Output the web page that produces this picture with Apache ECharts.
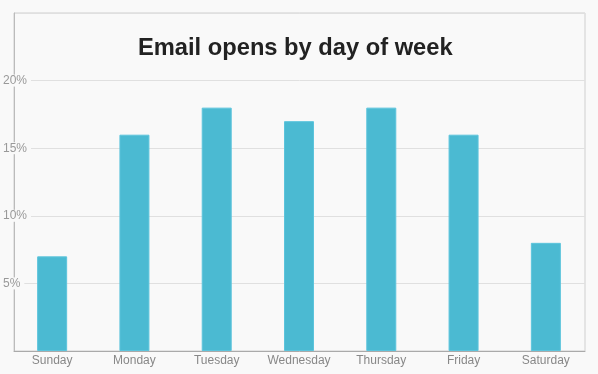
<!DOCTYPE html>
<html><head><meta charset="utf-8">
<script src="https://cdn.jsdelivr.net/npm/echarts@6/dist/echarts.min.js"></script>
<style>html,body{margin:0;padding:0;background:#f9f9f9}#c{width:598px;height:374px}</style>
</head><body><div id="c"></div>
<script>
var categories = ['Sunday','Monday','Tuesday','Wednesday','Thursday','Friday','Saturday'];
var opens = [7, 16, 18, 17, 18, 16, 8];
var yTicks = [5, 10, 15, 20];

var font = 'Liberation Sans, Arial, sans-serif';
var chart = echarts.init(document.getElementById('c'));
chart.setOption({
  backgroundColor: '#f9f9f9',
  animation: false,
  title: {
    text: 'Email opens by day of week',
    left: 133, top: 31,
    textStyle: {fontFamily: font, fontSize: 23.7, fontWeight: 'bold', color: '#222'}
  },
  grid: [
    {left: 14, right: 13, top: 13, bottom: 23, show: true, borderColor: '#cfcfcf', borderWidth: 1},
    {left: 11, right: 11, top: 13, bottom: 23}
  ],
  xAxis: [{
    gridIndex: 0, type: 'category', data: categories,
    axisLine: {lineStyle: {color: '#aaa'}},
    axisTick: {show: false},
    axisLabel: {show: false}
  }, {
    gridIndex: 1, type: 'category', data: categories,
    axisLine: {show: false},
    axisTick: {show: false},
    axisLabel: {color: '#888', fontSize: 12, fontFamily: font, margin: 4, interval: 0}
  }],
  yAxis: [{
    gridIndex: 0, type: 'value', min: 0, max: 25, interval: 5,
    axisLine: {show: true, lineStyle: {color: '#bbb'}},
    axisTick: {show: false},
    splitLine: {lineStyle: {color: '#e0e0e0'}},
    axisLabel: {
      color: '#999', fontSize: 12, fontFamily: font,
      align: 'left', margin: 11, backgroundColor: '#f9f9f9', padding: [0, 4, 0, 0],
      formatter: function (v) { return yTicks.indexOf(v) >= 0 ? v + '%' : ''; }
    }
  }, {
    gridIndex: 1, type: 'value', min: 0, max: 25, interval: 5,
    axisLine: {show: false}, axisTick: {show: false},
    splitLine: {show: false}, axisLabel: {show: false}
  }],
  series: [{
    type: 'bar', data: opens, barWidth: 30, xAxisIndex: 1, yAxisIndex: 1,
    itemStyle: {color: '#4bbad2', borderColor: '#5cc4dc', borderWidth: 1}
  }]
});
</script></body></html>
